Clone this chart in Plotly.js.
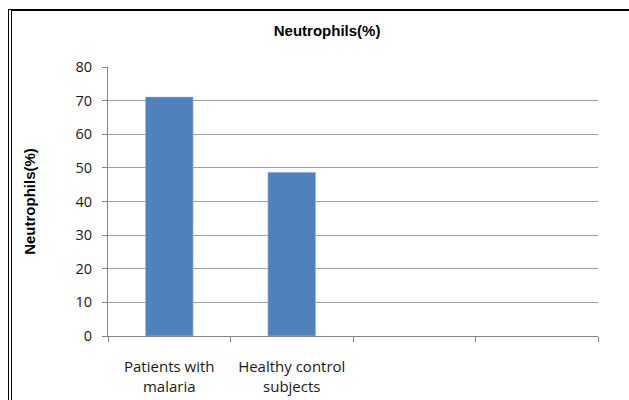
<!DOCTYPE html>
<html><head><meta charset="utf-8">
<script src="https://cdn.plot.ly/plotly-3.0.1.min.js"></script>
<style>
html,body{margin:0;padding:0;background:#fff;}
#frame{position:absolute;left:8px;top:9px;width:640px;height:400px;border-top:2px solid #000;border-left:4px double #000;}
#chart{position:absolute;left:0;top:0;width:629px;height:400px;}
</style></head>
<body>
<div id="frame"></div>
<div id="chart"></div>
<script>
const categories = ["Patients with<br>malaria", "Healthy control<br>subjects", " ", "  "];
const values = [71.1, 48.7, null, null];
const yTicks = [0, 10, 20, 30, 40, 50, 60, 70, 80];

const trace = {
  type: "bar",
  x: categories,
  y: values,
  width: 0.39,
  marker: {color: "#4f81bd", line: {color: "#b9cde5", width: 0.5}},
  hoverinfo: "none"
};
const layout = {
  width: 629, height: 400,
  paper_bgcolor: "rgba(0,0,0,0)", plot_bgcolor: "rgba(0,0,0,0)",
  margin: {l: 108, r: 31, t: 67, b: 64},
  showlegend: false,
  font: {family: "Open Sans, Liberation Sans, sans-serif", size: 12, color: "#1a1a1a"},
  title: {text: "<b>Neutrophils(%)</b>", x: 0.52, xref: "container", xanchor: "center", y: 0.922, yref: "container", yanchor: "middle",
          font: {size: 15, color: "#000", family: "Liberation Sans, Arial, sans-serif"}},
  xaxis: {type: "category", categoryorder: "array", categoryarray: categories, range: [-0.5, 3.5],
          showgrid: false, showline: true, linecolor: "#868686", linewidth: 1,
          ticks: "outside", tickson: "boundaries", ticklen: 5, tickcolor: "#868686", ticklabelstandoff: 17,
          tickfont: {size: 15, color: "#1a1a1a"}},
  yaxis: {range: [0, 80], tickvals: yTicks, showgrid: true, gridcolor: "#a0a0a0", gridwidth: 1,
          showline: true, linecolor: "#868686", linewidth: 1, zeroline: false,
          ticks: "outside", ticklen: 5, tickcolor: "#868686", ticklabelstandoff: 7,
          tickfont: {size: 14.5, color: "#1a1a1a"},
          title: {text: "<b>Neutrophils(%)</b>", standoff: 36, font: {size: 15, color: "#000", family: "Liberation Sans, Arial, sans-serif"}}},
  bargap: 0.61
};
Plotly.newPlot("chart", [trace], layout, {displayModeBar: false, staticPlot: true});
</script>
</body></html>
